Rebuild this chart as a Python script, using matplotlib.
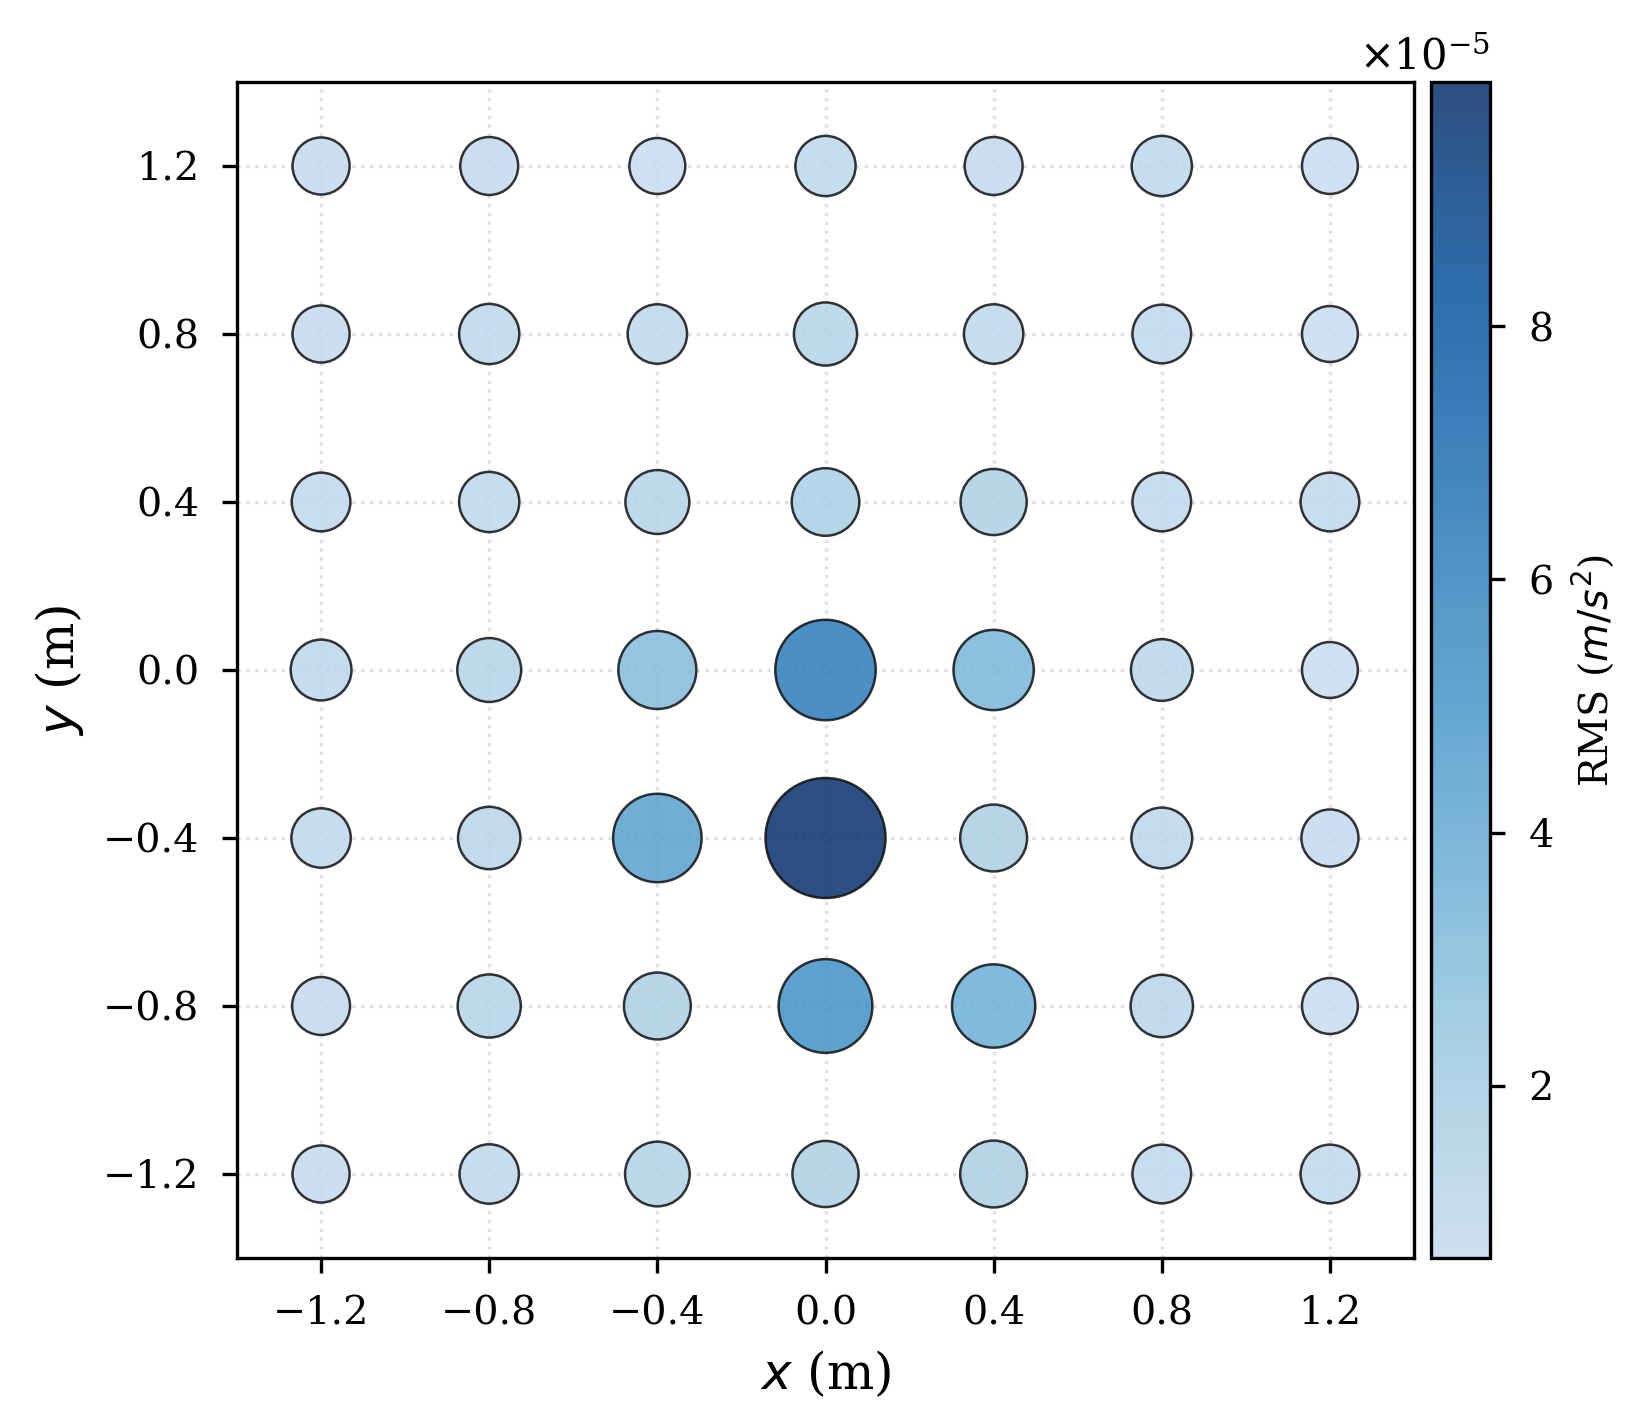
import numpy as np
import matplotlib
matplotlib.use("Agg")
import matplotlib.pyplot as plt
from matplotlib.colors import LinearSegmentedColormap
from matplotlib.ticker import ScalarFormatter

plt.rcParams["font.family"] = "serif"
plt.rcParams["font.serif"] = ["DejaVu Serif"]
plt.rcParams["axes.unicode_minus"] = True

# sensor grid positions (m)
x_pos = [-1.2, -0.8, -0.4, 0.0, 0.4, 0.8, 1.2]
y_pos = [1.2, 0.8, 0.4, 0.0, -0.4, -0.8, -1.2]

# RMS acceleration per sensor (x1e-5 m/s^2), rows follow y_pos, columns follow x_pos
rms_row_p12 = [0.75, 0.83, 0.64, 1.05, 0.83, 1.05, 0.64]
rms_row_p08 = [0.75, 1.05, 0.97, 1.35, 0.97, 0.90, 0.64]
rms_row_p04 = [0.90, 1.05, 1.43, 1.83, 1.67, 0.90, 0.90]
rms_row_00 = [1.11, 1.43, 3.08, 6.37, 3.37, 1.20, 0.64]
rms_row_m04 = [0.97, 1.27, 4.51, 9.93, 1.75, 1.11, 0.75]
rms_row_m08 = [0.83, 1.35, 1.75, 5.30, 3.78, 1.27, 0.64]
rms_row_m12 = [0.75, 0.97, 1.51, 1.67, 1.75, 0.90, 0.90]

rms = np.array([rms_row_p12, rms_row_p08, rms_row_p04, rms_row_00,
                rms_row_m04, rms_row_m08, rms_row_m12]) * 1e-5
xx, yy = np.meshgrid(x_pos, y_pos)
xs, ys, vals = xx.ravel(), yy.ravel(), rms.ravel()

# marker area scales with RMS
sizes = 180 + 650 * (vals - vals.min()) / (vals.max() - vals.min())

cmap = LinearSegmentedColormap.from_list(
    "blues_trunc", plt.cm.Blues(np.linspace(0.25, 1.0, 256)))

fig = plt.figure(figsize=(1651 / 300, 1426 / 300), dpi=300)
ax = fig.add_axes([237 / 1651, 1 - 1258 / 1426, 1177 / 1651, 1176 / 1426])
cax = fig.add_axes([1431 / 1651, 1 - 1258 / 1426, 59 / 1651, 1176 / 1426])

sc = ax.scatter(xs, ys, s=sizes, c=vals, cmap=cmap, alpha=0.85,
                edgecolors="#111111", linewidths=0.6, zorder=3)

ax.set_xlim(-1.4, 1.4)
ax.set_ylim(-1.4, 1.4)
ax.set_xticks(x_pos)
ax.set_yticks(y_pos)
ax.tick_params(labelsize=9.5, pad=5.5)
ax.grid(True, linestyle=":", color="lightgray", alpha=0.7, linewidth=0.8)
ax.set_axisbelow(True)
ax.set_xlabel("$x$ (m)", fontsize=12)
ax.set_ylabel("$y$ (m)", fontsize=12)

cb = fig.colorbar(sc, cax=cax)
fmt = ScalarFormatter(useMathText=True)
fmt.set_powerlimits((0, 0))
cb.formatter = fmt
cb.update_ticks()
cb.ax.tick_params(labelsize=9.5, pad=5.5)
cb.ax.yaxis.get_offset_text().set_fontsize(10)
cb.set_label("RMS ($m/s^2$)", fontsize=9.5)

fig.savefig("out.png", dpi=300)
